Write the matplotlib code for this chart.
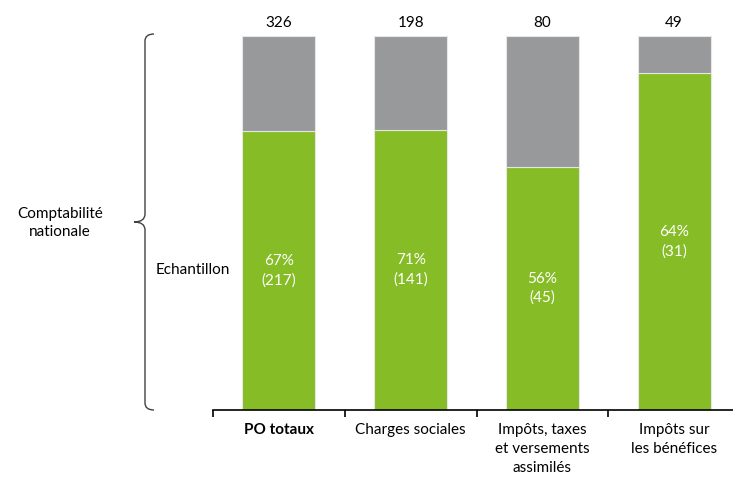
import matplotlib.pyplot as plt
from matplotlib.path import Path
from matplotlib.patches import PathPatch

plt.rcParams['font.family'] = ['Lato', 'DejaVu Sans']

categories = ['PO totaux', 'Charges sociales', 'Impôts, taxes\net versements\nassimilés',
              'Impôts sur\nles bénéfices']
total_count = [326, 198, 80, 49]
sample_count = [217, 141, 45, 31]
sample_pct = [67, 71, 56, 64]
# share of the amounts covered by the sample (bar heights)
sample_share = [0.746, 0.750, 0.650, 0.900]

green = '#86BC25'
grey = '#97999B'

fig = plt.figure(figsize=(7.33, 4.78), dpi=100)
ax = fig.add_axes([213 / 733, 1 - 410 / 478, 527 / 733, 374 / 478])

x = list(range(len(categories)))
rest = [1 - s for s in sample_share]
ax.bar(x, sample_share, width=0.555, color=green, edgecolor='#e6e6e6', linewidth=0.8)
ax.bar(x, rest, bottom=sample_share, width=0.555, color=grey, edgecolor='#e6e6e6', linewidth=0.8)

for i in x:
    ax.text(i, sample_share[i] / 2, f'{sample_pct[i]}%\n({sample_count[i]})', color='white',
            ha='center', va='center', fontsize=11, linespacing=1.45)
    ax.text(i, 1.015, str(total_count[i]), ha='center', va='bottom', fontsize=11)
    ax.text(i, -0.035, categories[i], ha='center', va='top', fontsize=11, linespacing=1.45,
            fontweight='bold' if i == 0 else 'normal')

ax.set_xlim(-0.5, 3.5)
ax.set_ylim(0, 1)
for s in ['top', 'right', 'left']:
    ax.spines[s].set_visible(False)
ax.spines['bottom'].set_color('black')
ax.spines['bottom'].set_linewidth(1.2)
ax.set_yticks([])
ax.set_xticks([-0.5, 0.5, 1.5, 2.5, 3.5])
ax.set_xticklabels([])
ax.tick_params(axis='x', direction='out', length=5, width=1.2, color='black')

# left brace spanning the full bar height, in pixel coordinates of the figure
def px(xp, yp):
    return (xp / 733, 1 - yp / 478)

verts = [px(154, 34), px(145, 34), px(145, 41),
         px(145, 214), px(145, 222), px(134, 222),
         px(145, 222), px(145, 230),
         px(145, 403), px(145, 410), px(154, 410)]
codes = [Path.MOVETO, Path.CURVE3, Path.CURVE3,
         Path.LINETO, Path.CURVE3, Path.CURVE3,
         Path.CURVE3, Path.CURVE3,
         Path.LINETO, Path.CURVE3, Path.CURVE3]
brace = PathPatch(Path(verts, codes), transform=fig.transFigure, facecolor='none',
                  edgecolor='#404040', linewidth=1.0)
fig.patches.append(brace)

fig.text(60 / 733, 1 - 223 / 478, 'Comptabilité\nnationale', ha='center', va='center',
         fontsize=11, linespacing=1.45)
fig.text(193 / 733, 1 - 270 / 478, 'Echantillon', ha='center', va='center', fontsize=11)

fig.savefig('out.png', dpi=100)
